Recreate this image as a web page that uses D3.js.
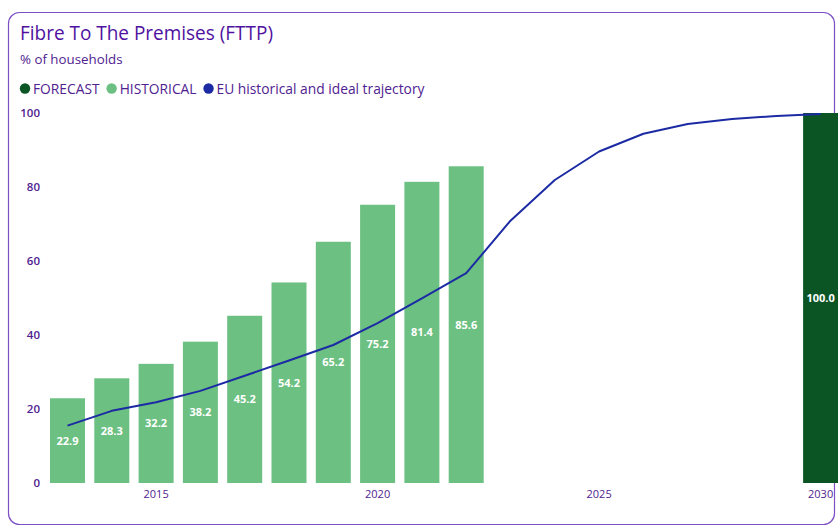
<!DOCTYPE html>
<html>
<head>
<meta charset="utf-8">
<script src="https://cdn.jsdelivr.net/npm/d3@7"></script>
<style>
  html, body { margin: 0; padding: 0; background: #fff; }
  svg { display: block; font-family: "Open Sans", "Noto Sans", sans-serif; }
</style>
</head>
<body>
<svg id="chart" width="838" height="528"></svg>
<script>
// FTTP coverage, % of households
const years = d3.range(2013, 2031);
const historicalYears = [2013, 2014, 2015, 2016, 2017, 2018, 2019, 2020, 2021, 2022];
const historicalValues = [22.9, 28.3, 32.2, 38.2, 45.2, 54.2, 65.2, 75.2, 81.4, 85.6];
const forecastYears = [2030];
const forecastValues = [100.0];
const trajectoryYears = years;
const trajectoryValues = [15.5, 19.5, 21.8, 24.9, 29.0, 33.1, 37.3, 43.2, 49.9, 56.7,
                          70.9, 81.9, 89.6, 94.4, 97.0, 98.4, 99.2, 99.7];
const yTicks = [0, 20, 40, 60, 80, 100];
const xTickYears = [2015, 2020, 2025, 2030];
const legendItems = ["FORECAST", "HISTORICAL", "EU historical and ideal trajectory"];

const C = {
  frame: "#7d4fc4",
  title: "#4f12a0",
  text: "#4f2290",
  historical: "#6cc081",
  forecast: "#0b5525",
  line: "#1c2ba4"
};

const svg = d3.select("#chart");

// card frame
svg.append("rect")
  .attr("x", 8.5).attr("y", 12.5)
  .attr("width", 826).attr("height", 512)
  .attr("rx", 11).attr("ry", 11)
  .attr("fill", "#fff")
  .attr("stroke", C.frame).attr("stroke-width", 1.2);

// headings
svg.append("text")
  .attr("x", 20).attr("y", 40)
  .attr("fill", C.title)
  .attr("font-size", 19.5)
  .attr("font-weight", 500)
  .attr("textLength", 253)
  .attr("lengthAdjust", "spacingAndGlyphs")
  .text("Fibre To The Premises (FTTP)");

svg.append("text")
  .attr("x", 20).attr("y", 64)
  .attr("fill", C.text)
  .attr("font-size", 13.3)
  .text("% of households");

// legend
const legendColors = [C.forecast, C.historical, C.line];
const legend = svg.append("g").attr("font-size", 13.8).attr("fill", C.text);
let lx = 20;
legendItems.forEach((label, i) => {
  legend.append("circle")
    .attr("cx", lx + 5).attr("cy", 88.5).attr("r", 5.2)
    .attr("fill", legendColors[i]);
  const t = legend.append("text")
    .attr("x", lx + 13).attr("y", 93.5)
    .text(label);
  lx += 13 + t.node().getComputedTextLength() + 7;
});

// scales
const x = d3.scaleBand()
  .domain(years)
  .range([45.35, 842.75])
  .paddingInner(0.21)
  .paddingOuter(0.105);

const y = d3.scaleLinear().domain([0, 100]).range([483, 113]);

// y axis labels
const yAxis = svg.append("g")
  .attr("transform", "translate(40,0)")
  .call(d3.axisLeft(y).tickValues(yTicks).tickSize(0).tickPadding(0));
yAxis.select(".domain").remove();
yAxis.selectAll("text")
  .attr("fill", C.text)
  .attr("font-size", 11.5)
  .attr("font-weight", 600)
  .attr("font-family", "'Open Sans', sans-serif");

// x axis labels
const xAxis = svg.append("g")
  .attr("transform", "translate(0,487)")
  .call(d3.axisBottom(x).tickValues(xTickYears).tickSize(0).tickPadding(3));
xAxis.select(".domain").remove();
xAxis.selectAll("text")
  .attr("fill", C.text)
  .attr("font-size", 11)
  .attr("font-family", "'Open Sans', sans-serif");

// bars
function drawBars(ys, vs, color) {
  const data = ys.map((yr, i) => ({ year: yr, value: vs[i] }));
  svg.append("g").selectAll("rect")
    .data(data).join("rect")
    .attr("x", d => x(d.year))
    .attr("y", d => y(d.value))
    .attr("width", x.bandwidth())
    .attr("height", d => y(0) - y(d.value))
    .attr("fill", color);
  svg.append("g").selectAll("text")
    .data(data).join("text")
    .attr("x", d => x(d.year) + x.bandwidth() / 2)
    .attr("y", d => (y(d.value) + y(0)) / 2 + 4)
    .attr("text-anchor", "middle")
    .attr("fill", "#fff")
    .attr("font-size", 11)
    .attr("font-weight", 700)
    .text(d => d.value.toFixed(1));
}
drawBars(historicalYears, historicalValues, C.historical);
drawBars(forecastYears, forecastValues, C.forecast);

// EU trajectory line
const lineData = trajectoryYears.map((yr, i) => [yr, trajectoryValues[i]]);
svg.append("path")
  .datum(lineData)
  .attr("fill", "none")
  .attr("stroke", C.line)
  .attr("stroke-width", 2)
  .attr("stroke-linejoin", "round")
  .attr("d", d3.line()
    .x(d => x(d[0]) + x.bandwidth() / 2)
    .y(d => y(d[1])));
</script>
</body>
</html>
